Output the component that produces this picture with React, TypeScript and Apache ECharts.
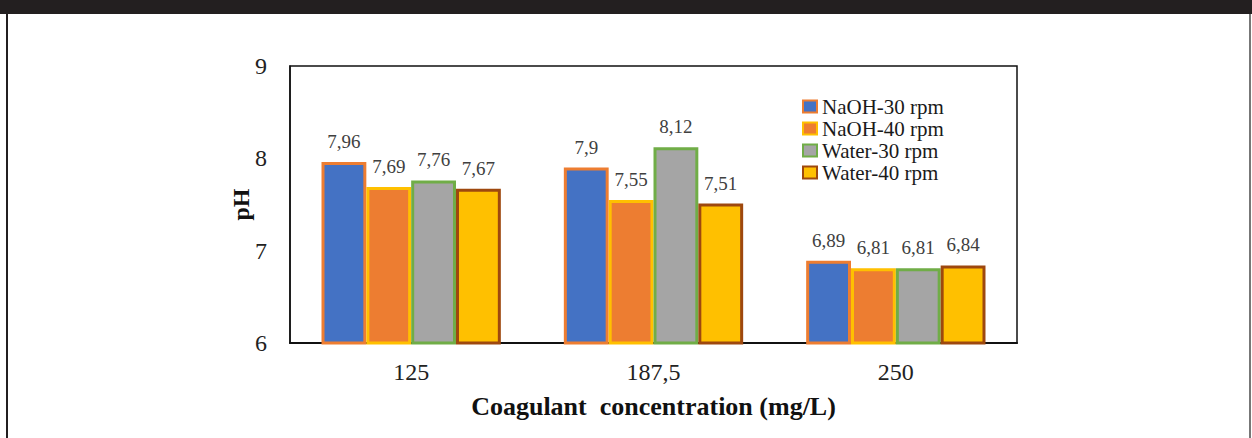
import React, { useEffect, useRef } from "react";
import * as echarts from "echarts";

const categories = ["125", "187,5", "250"];
const seriesNames = ["NaOH-30 rpm", "NaOH-40 rpm", "Water-30 rpm", "Water-40 rpm"];
const naoh30 = [7.96, 7.9, 6.89];
const naoh40 = [7.69, 7.55, 6.81];
const water30 = [7.76, 8.12, 6.81];
const water40 = [7.67, 7.51, 6.84];
const yTicks = [6, 7, 8, 9];

const fills = ["#4472C4", "#ED7D31", "#A5A5A5", "#FFC000"];
const borders = ["#ED7D31", "#FFC000", "#70AD47", "#9E480E"];

export default function App() {
  const ref = useRef<HTMLDivElement>(null);
  useEffect(() => {
    const chart = echarts.init(ref.current!, null, { renderer: "svg" });
    const data = [naoh30, naoh40, water30, water40];
    const serif = "'Liberation Serif', 'Times New Roman', serif";
    chart.setOption({
      animation: false,
      backgroundColor: "#fff",
      grid: {
        left: 290,
        top: 66,
        right: 235,
        bottom: 95,
        show: true,
        borderColor: "#111",
        borderWidth: 1.5,
        backgroundColor: "transparent",
      },
      legend: {
        orient: "vertical",
        left: 797,
        top: 91,
        itemWidth: 14,
        itemHeight: 12,
        itemGap: 1,
        icon: "rect",
        data: seriesNames,
        textStyle: { fontFamily: serif, fontSize: 21, lineHeight: 21, color: "#1a1a1a" },
      },
      xAxis: {
        type: "category",
        data: categories,
        axisLine: { show: true, lineStyle: { color: "#111", width: 2 } },
        axisTick: { show: false },
        axisLabel: { fontFamily: serif, fontSize: 24, color: "#222", margin: 17 },
        name: "Coagulant  concentration (mg/L)",
        nameLocation: "middle",
        nameGap: 50,
        nameMoveOverlap: false,
        nameTextStyle: { fontFamily: serif, fontSize: 26, fontWeight: "bold", color: "#111" },
      },
      yAxis: {
        type: "value",
        min: yTicks[0],
        max: yTicks[yTicks.length - 1],
        interval: 1,
        splitLine: { show: false },
        axisLine: { show: true, lineStyle: { color: "#111", width: 1.5 } },
        axisTick: { show: false },
        axisLabel: { fontFamily: serif, fontSize: 24, color: "#222", margin: 23 },
        name: "pH",
        nameLocation: "middle",
        nameGap: 37,
        nameMoveOverlap: false,
        nameTextStyle: { fontFamily: serif, fontSize: 24, fontWeight: "bold", color: "#111" },
      },
      series: seriesNames.map((name, i) => ({
        name,
        type: "bar",
        data: data[i],
        barGap: "0%",
        barCategoryGap: "26%",
        itemStyle: { color: fills[i], borderColor: borders[i], borderWidth: 3 },
        label: {
          show: true,
          position: "top",
          distance: 11,
          fontFamily: serif,
          fontSize: 19,
          color: "#404040",
          formatter: (p: any) => String(p.value).replace(".", ","),
        },
      })),
      graphic: [
        { type: "rect", shape: { x: 0, y: 0, width: 1252, height: 14 }, style: { fill: "#231F20" } },
        { type: "rect", shape: { x: 6, y: 14, width: 2, height: 424 }, style: { fill: "#231F20" } },
        { type: "rect", shape: { x: 1249, y: 14, width: 2, height: 424 }, style: { fill: "#777" } },
      ],
    });
    return () => chart.dispose();
  }, []);
  return (
    <div
      ref={ref}
      style={{ position: "fixed", left: 0, top: 0, width: 1252, height: 438 }}
    />
  );
}
